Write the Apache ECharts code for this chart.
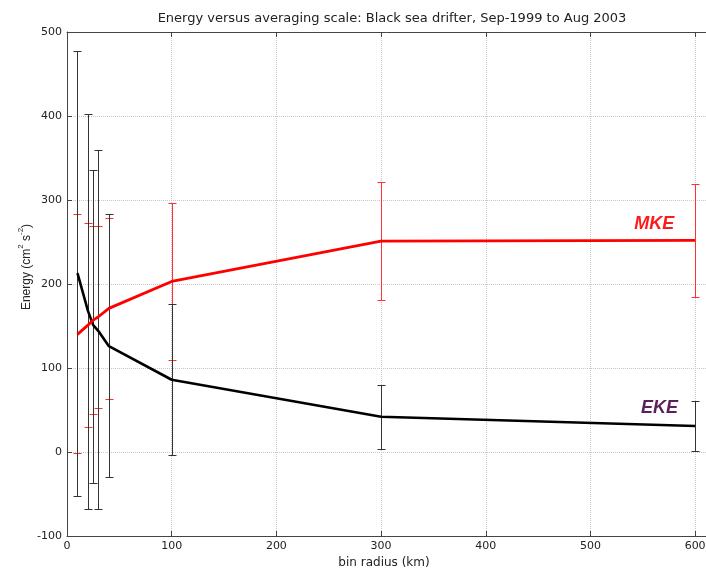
<!DOCTYPE html>
<html>
<head>
<meta charset="utf-8">
<script src="https://cdn.jsdelivr.net/npm/echarts@6/dist/echarts.min.js"></script>
<style>
html,body{margin:0;padding:0;background:#fff;overflow:hidden;}
#c{width:706px;height:573px;}
</style>
</head>
<body>
<div id="c"></div>
<script>
// bin radius (km)
var binRadius = [10, 20, 25, 30, 40, 100, 300, 600];
// Mean kinetic energy (cm^2 s^-2)
var mke = [140, 151, 157, 161, 171, 203, 251, 252];
var mkeLow = [-1, 30, 45, 52, 63, 109, 181, 185];
var mkeHigh = [283, 273, 269, 269, 279, 297, 321, 319];
// Eddy kinetic energy (cm^2 s^-2)
var eke = [213, 168, 151, 144, 126, 86, 42, 31];
var ekeLow = [-52, -68, -37, -68, -30, -4, 4, 1];
var ekeHigh = [477, 402, 336, 360, 283, 176, 80, 61];
var xTicks = [0, 100, 200, 300, 400, 500, 600];
var yTicks = [-100, 0, 100, 200, 300, 400, 500];

function zip2(a, b) { return a.map(function (v, i) { return [v, b[i]]; }); }
function zip3(a, b, c) { return a.map(function (v, i) { return [v, b[i], c[i]]; }); }

function errRender(color) {
  return function (params, api) {
    var x = api.value(0), lo = api.value(1), hi = api.value(2);
    var pLo = api.coord([x, lo]), pHi = api.coord([x, hi]);
    var hw = 4;
    var cx = Math.round(pLo[0]) + 0.5;
    var yl = Math.round(pLo[1]) + 0.5, yh = Math.round(pHi[1]) + 0.5;
    var st = { stroke: color, lineWidth: 1 };
    return {
      type: 'group',
      children: [
        { type: 'line', shape: { x1: cx, y1: yl, x2: cx, y2: yh }, style: st },
        { type: 'line', shape: { x1: cx - hw, y1: yl, x2: cx + hw, y2: yl }, style: st },
        { type: 'line', shape: { x1: cx - hw, y1: yh, x2: cx + hw, y2: yh }, style: st }
      ]
    };
  };
}

var font = 'DejaVu Sans, Liberation Sans, Arial, sans-serif';
var lblFont = 'Liberation Sans, Arial, sans-serif';
var chart = echarts.init(document.getElementById('c'), null, { renderer: 'canvas' });

var gridLine = { show: true, lineStyle: { color: '#c6c6c6', type: 'dotted', width: 1 } };
var frameLine = { show: true, onZero: false, lineStyle: { color: '#444', width: 1 } };
var tickIn = { show: true, inside: true, length: 5, lineStyle: { color: '#444' } };
var labelFmt = function (v) { return xTicks.indexOf(v) >= 0 ? String(v) : ''; };

chart.setOption({
  animation: false,
  backgroundColor: '#fff',
  title: {
    text: 'Energy versus averaging scale: Black sea drifter, Sep-1999 to Aug 2003',
    left: 387, top: 7, textAlign: 'center',
    textStyle: { fontFamily: font, fontSize: 13, fontWeight: 'normal', color: '#222' }
  },
  grid: { left: 67, right: -31, top: 32, bottom: 37, show: false, containLabel: false, outerBoundsMode: 'none' },
  xAxis: [{
    type: 'value', min: 0, max: 640, interval: 100, position: 'bottom',
    axisLine: frameLine, axisTick: tickIn, splitLine: gridLine,
    axisLabel: { fontFamily: font, fontSize: 11, color: '#222', margin: 5, formatter: labelFmt, showMaxLabel: false }
  }, {
    type: 'value', min: 0, max: 640, interval: 100, position: 'top',
    axisLine: frameLine, axisTick: tickIn, splitLine: { show: false },
    axisLabel: { show: false }
  }],
  yAxis: [{
    type: 'value', min: -100, max: 500, interval: 100, position: 'left',
    axisLine: frameLine, axisTick: tickIn, splitLine: gridLine,
    axisLabel: { fontFamily: font, fontSize: 11, color: '#222', margin: 5 }
  }],
  graphic: [{
    type: 'text', x: 384, y: 563,
    style: { text: 'bin radius (km)', fontFamily: font, fontSize: 12, fill: '#222', textAlign: 'center', textVerticalAlign: 'middle' }
  }, {
    type: 'text', x: 25, y: 267, rotation: Math.PI / 2,
    style: {
      text: '{n|Energy (cm}{s|2}{n| s}{s|-2}{n|)}',
      fontFamily: lblFont, fontSize: 12, fill: '#222', textAlign: 'center', textVerticalAlign: 'middle',
      rich: {
        n: { fontFamily: lblFont, fontSize: 12, fill: '#222', verticalAlign: 'bottom', lineHeight: 16 },
        s: { fontFamily: lblFont, fontSize: 8, fill: '#222', verticalAlign: 'top', lineHeight: 16 }
      }
    }
  }],
  series: [
    {
      name: 'MKE err', type: 'custom', z: 2,
      renderItem: errRender('#ff3030'),
      encode: { x: 0, y: [1, 2] },
      data: zip3(binRadius, mkeLow, mkeHigh)
    },
    {
      name: 'EKE err', type: 'custom', z: 3,
      renderItem: errRender('#333333'),
      encode: { x: 0, y: [1, 2] },
      data: zip3(binRadius, ekeLow, ekeHigh)
    },
    {
      name: 'EKE', type: 'line', z: 4, symbol: 'none',
      lineStyle: { color: '#000', width: 2.6 },
      data: zip2(binRadius, eke),
      markPoint: {
        symbol: 'circle', symbolSize: 0,
        label: { show: true, formatter: 'EKE', fontFamily: lblFont, fontSize: 18, fontWeight: 'bold', fontStyle: 'italic', color: '#5a1f5c' },
        data: [{ coord: [566, 52] }]
      }
    },
    {
      name: 'MKE', type: 'line', z: 5, symbol: 'none',
      lineStyle: { color: '#ff0000', width: 2.8 },
      data: zip2(binRadius, mke),
      markPoint: {
        symbol: 'circle', symbolSize: 0,
        label: { show: true, formatter: 'MKE', fontFamily: lblFont, fontSize: 18, fontWeight: 'bold', fontStyle: 'italic', color: '#ff1a1a' },
        data: [{ coord: [561, 271] }]
      }
    }
  ]
});
</script>
</body>
</html>
